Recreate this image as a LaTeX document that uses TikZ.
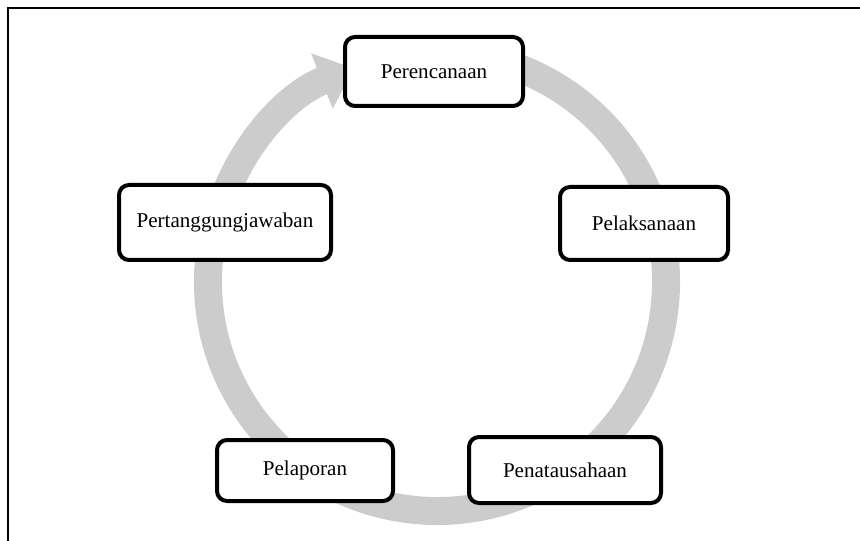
\documentclass[tikz,border=0pt]{standalone}
\usepackage{fontspec}
\setmainfont{Liberation Serif}
\usetikzlibrary{arrows.meta,calc}
\definecolor{Ink}{HTML}{000000}
\definecolor{RingGray}{HTML}{CCCCCC}

\begin{document}
\begin{tikzpicture}[
  x=0.75pt,y=0.75pt,
  stage/.style={draw=Ink,fill=white,line width=3pt,rounded corners=7.5pt,inner sep=0pt,font=\fontsize{15.8}{19}\selectfont},
  ring/.style={draw=RingGray,line width=21pt,-{Triangle[length=26pt,width=43pt]}},
  frame/.style={draw=Ink,line width=1.7pt}
]
  \useasboundingbox (0,0) rectangle (860,-541);
  \draw[frame] (8.3,-541) -- (8.3,-7.8) -- (860,-7.8);
  \coordinate (hub) at (437,-282);
  \draw[ring] ($(hub)+(80:229)$) arc[start angle=80,end angle=-248.8,radius=229];
  \node[stage,minimum width=133.5pt,minimum height=51.75pt] (plan) at (434,-71.5) {Perencanaan};
  \node[stage,minimum width=126pt,minimum height=54.75pt] (exec) at (644,-223.5) {Pelaksanaan};
  \node[stage,minimum width=144pt,minimum height=49.5pt] (admin) at (565,-470) {Penatausahaan};
  \node[stage,minimum width=132pt,minimum height=45.75pt] (report) at (305,-470.5) {Pelaporan};
  \node[stage,minimum width=159pt,minimum height=56.25pt] (account) at (225,-222.5) {Pertanggungjawaban};
\end{tikzpicture}
\end{document}
